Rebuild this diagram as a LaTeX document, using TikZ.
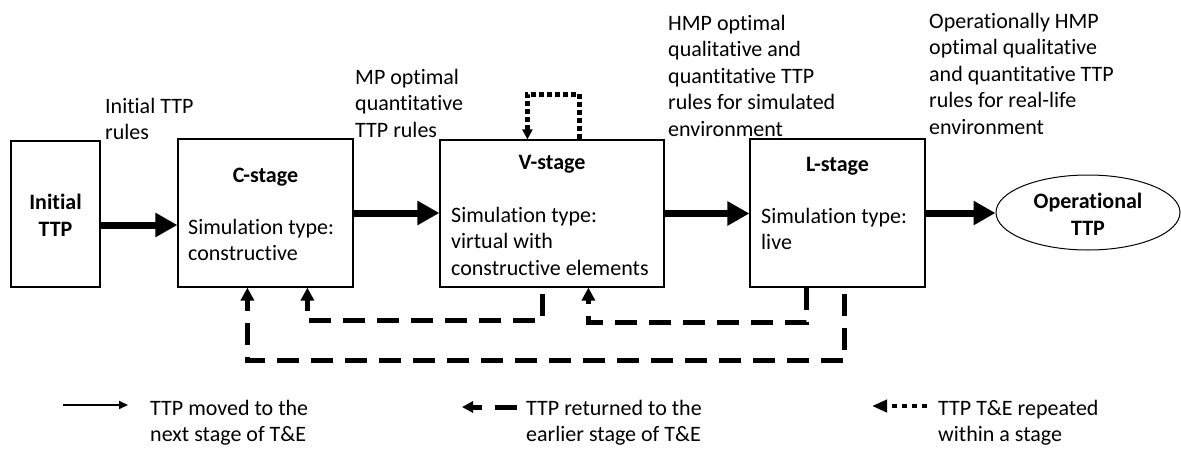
\documentclass[tikz,border=0pt]{standalone}
\usepackage{fontspec}
\setmainfont{Carlito}[Ligatures={NoCommon}, RawFeature={-liga;-calt;-clig}]
\usetikzlibrary{arrows.meta,shapes.geometric,calc}
\begin{document}
\begin{tikzpicture}[x=1pt,y=-1pt,
  font=\fontsize{22}{26.5}\selectfont,
  every node/.style={inner sep=0pt},
  box/.style={draw, line width=1.2pt, rectangle},
  lbl/.style={anchor=north west, align=left},
  bold/.style={font=\fontsize{22}{26.5}\selectfont\bfseries, align=center, anchor=north},
  fwd/.style={line width=7pt, -{Triangle[length=22pt,width=23pt]}},
  back/.style={line width=5pt, dash pattern=on 22pt off 12pt, line join=miter, -{Triangle[length=13pt,width=13pt]}},
  rep/.style={line width=4.5pt, dash pattern=on 5pt off 3pt, -{Triangle[length=10pt,width=10pt]}}]
\useasboundingbox (0,0) rectangle (1181,450);
% boxes
\node[box, minimum width=89pt, minimum height=146pt] (init) at (55.5,214) {};
\node[box, minimum width=175pt, minimum height=148pt] (cst) at (265.5,213) {};
\node[box, minimum width=224pt, minimum height=147pt] (vst) at (552,213.5) {};
\node[box, minimum width=175pt, minimum height=148pt] (lst) at (837.5,213) {};
\node[draw, ellipse, line width=1pt, minimum width=184pt, minimum height=75pt] (op) at (1088,212.5) {};
% box texts
\node[bold] (tinit) at (55.5,194) {Initial\\TTP};
\node[bold] (tc) at ([yshift=-29pt]cst.north) {C-stage};
\node[bold] (tv) at ([yshift=-16pt]vst.north) {V-stage};
\node[bold] (tl) at ([yshift=-19pt]lst.north) {L-stage};
\node[bold] (top) at (1088,193) {Operational\\TTP};
\node[lbl] (sc) at (188,219) {Simulation type:\\constructive};
\node[lbl] (sv) at (451,207) {Simulation type:\\virtual with\\constructive elements};
\node[lbl] (sl) at (761,208) {Simulation type:\\live};
% upper labels
\node[lbl] (l1) at (105,98) {Initial TTP\\rules};
\node[lbl] (l2) at (355,69) {MP optimal\\quantitative\\TTP rules};
\node[lbl] (l3) at (668,15) {HMP optimal\\qualitative and\\quantitative TTP\\rules for simulated\\environment};
\node[lbl] (l4) at (929,13) {Operationally HMP\\optimal qualitative\\and quantitative TTP\\rules for real-life\\environment};
% forward arrows
\coordinate (ya) at (0,225);
\draw[fwd] (init.east |- ya) -- (cst.west |- ya);
\draw[fwd] (cst.east) -- (cst.east -| vst.west);
\draw[fwd] (vst.east) -- (vst.east -| lst.west);
\draw[fwd] (lst.east) -- (lst.east -| op.west);
% back arrows
\draw[back] ([xshift=103pt,yshift=-6pt]vst.south west) -- ++(0,27) -| ([xshift=130pt]cst.south west);
\draw[back] ([xshift=57pt]lst.south west) -- ++(0,35) -| ([xshift=149pt]vst.south west);
\draw[back] ([xshift=95pt,yshift=-6pt]lst.south west) -- ++(0,67) -| ([xshift=70pt]cst.south west);
% repeat loop
\draw[rep] ([xshift=140pt]vst.north west) -- ++(0,-45) -| ([xshift=88pt]vst.north west);
% legend
\coordinate (a1) at (63,405);
\coordinate (a2) at (128,405);
\draw[line width=2pt, -{Triangle[length=9pt,width=8pt]}] (a1) -- (a2);
\node[lbl] (g1) at (150,400) {TTP moved to the\\next stage of T\&E};
\coordinate (b1) at (517,407);
\coordinate (b2) at (462,407);
\draw[line width=5pt, dash pattern=on 22pt off 13pt on 30pt, -{Triangle[length=11pt,width=11pt]}] (b1) -- (b2);
\node[lbl] (g2) at (526,400) {TTP returned to the\\earlier stage of T\&E};
\coordinate (c1) at (927,406);
\coordinate (c2) at (872,406);
\draw[line width=4.5pt, dash pattern=on 5pt off 5pt, -{Triangle[length=15pt,width=12pt]}] (c1) -- (c2);
\node[lbl] (g3) at (938,400) {TTP T\&E repeated\\within a stage};
\end{tikzpicture}
\end{document}
